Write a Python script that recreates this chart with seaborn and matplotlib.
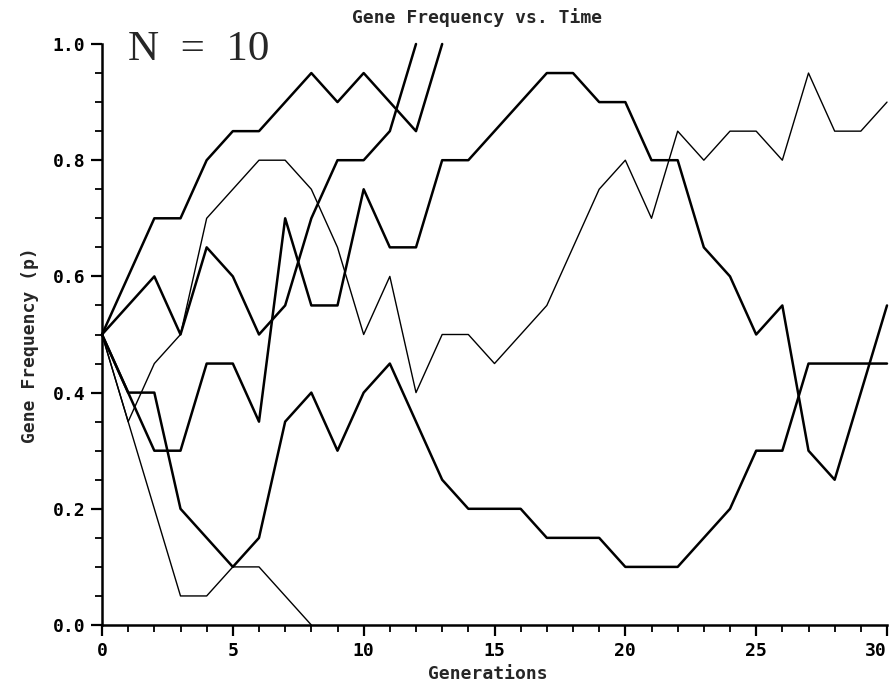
import numpy as np
import pandas as pd
import matplotlib
matplotlib.use("Agg")
import matplotlib.pyplot as plt
import seaborn as sns

# Gene frequency in each replicate population (N = 10), one value per generation
run_a = [0.5, 0.6, 0.7, 0.7, 0.8, 0.85, 0.85, 0.9, 0.95, 0.9, 0.95, 0.9, 0.85, 1.0]
run_b = [0.5, 0.55, 0.6, 0.5, 0.65, 0.6, 0.5, 0.55, 0.7, 0.8, 0.8, 0.85, 1.0]
run_c = [0.5, 0.4, 0.3, 0.3, 0.45, 0.45, 0.35, 0.7, 0.55, 0.55, 0.75, 0.65, 0.65,
         0.8, 0.8, 0.85, 0.9, 0.95, 0.95, 0.9, 0.9, 0.8, 0.8, 0.65, 0.6, 0.5,
         0.55, 0.3, 0.25, 0.4, 0.55]
run_e = [0.5, 0.35, 0.2, 0.05, 0.05, 0.1, 0.1, 0.05, 0.0]
run_f = [0.5, 0.35, 0.45, 0.5, 0.7, 0.75, 0.8, 0.8, 0.75, 0.65, 0.5, 0.6, 0.4,
         0.5, 0.5, 0.45, 0.5, 0.55, 0.65, 0.75, 0.8, 0.7, 0.85, 0.8, 0.85, 0.85,
         0.8, 0.95, 0.85, 0.85, 0.9]
run_g = [0.5, 0.4, 0.4, 0.2, 0.15, 0.1, 0.15, 0.35, 0.4, 0.3, 0.4, 0.45, 0.35,
         0.25, 0.2, 0.2, 0.2, 0.15, 0.15, 0.15, 0.1, 0.1, 0.1, 0.15, 0.2, 0.3,
         0.3, 0.45, 0.45, 0.45, 0.45]

runs = {"a": run_a, "b": run_b, "c": run_c, "e": run_e, "f": run_f, "g": run_g}
thick = ["a", "b", "c", "g"]

sns.set_style("ticks")
plt.rcParams["font.family"] = ["DejaVu Sans Mono", "DejaVu Sans"]

fig = plt.figure(figsize=(8.96, 6.82), dpi=100)
ax = fig.add_axes([102 / 896, 1 - 625 / 682, (887 - 102) / 896, (625 - 44) / 682])

for name, vals in runs.items():
    gens = np.arange(len(vals))
    lw = 1.8 if name in thick else 1.0
    sns.lineplot(x=gens, y=vals, ax=ax, color="black", linewidth=lw,
                 clip_on=False, zorder=3)

ax.set_xlim(0, 30)
ax.set_ylim(0, 1)
ax.set_xticks(range(0, 31, 5))
ax.set_xticks(range(0, 31), minor=True)
ax.set_yticks(np.arange(0, 1.01, 0.2))
ax.set_yticks(np.arange(0, 1.01, 0.05), minor=True)
ax.set_yticklabels(["0.0", "0.2", "0.4", "0.6", "0.8", "1.0"])
ax.tick_params(which="major", direction="out", length=8, width=1.6,
               labelsize=13, color="black", labelcolor="black", pad=4)
ax.tick_params(axis="x", which="major", pad=4)
ax.tick_params(which="minor", direction="out", length=5, width=1.3, color="black")
for lab in ax.get_xticklabels() + ax.get_yticklabels():
    lab.set_fontweight("bold")
# last label sits against the right edge, as in the scan
ax.get_xticklabels()[-1].set_horizontalalignment("right")
sns.despine(ax=ax)
for side in ["left", "bottom"]:
    ax.spines[side].set_linewidth(1.8)
    ax.spines[side].set_color("black")

fig.text(477 / 896, 1 - 18 / 682, "Gene Frequency vs. Time", ha="center",
         va="center", fontsize=13, fontweight="bold")
fig.text(488 / 896, 1 - 674 / 682, "Generations", ha="center", va="center",
         fontsize=13, fontweight="bold")
fig.text(30 / 896, 1 - 345 / 682, "Gene Frequency (p)", ha="center",
         va="center", rotation=90, fontsize=13, fontweight="bold")
fig.text(128 / 896, 1 - 60 / 682, "N  =  10", ha="left", va="baseline",
         fontsize=31, family="Liberation Serif")

fig.savefig("out.png", dpi=100)
